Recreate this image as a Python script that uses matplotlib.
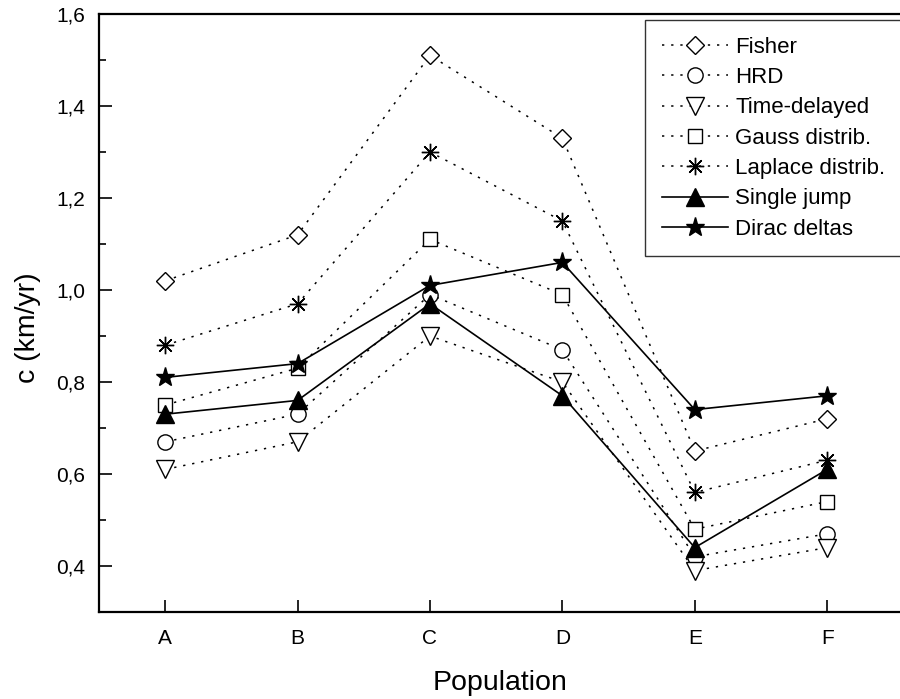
import matplotlib
matplotlib.use("Agg")
import matplotlib.pyplot as plt
from matplotlib.ticker import MultipleLocator, FuncFormatter

plt.rcParams['font.family'] = ['Liberation Sans', 'DejaVu Sans']

populations = ["A", "B", "C", "D", "E", "F"]
fisher = [1.02, 1.12, 1.51, 1.33, 0.65, 0.72]
hrd = [0.67, 0.73, 0.99, 0.87, 0.42, 0.47]
time_delayed = [0.61, 0.67, 0.90, 0.80, 0.39, 0.44]
gauss = [0.75, 0.83, 1.11, 0.99, 0.48, 0.54]
laplace = [0.88, 0.97, 1.30, 1.15, 0.56, 0.63]
single_jump = [0.73, 0.76, 0.97, 0.77, 0.44, 0.61]
dirac = [0.81, 0.84, 1.01, 1.06, 0.74, 0.77]

W, H = 900, 699
fig = plt.figure(figsize=(W / 100, H / 100), dpi=100)
ax = fig.add_axes([99 / W, (H - 612) / H, (902 - 99) / W, (612 - 14) / H])

x = list(range(len(populations)))
dot = dict(ls=(0, (1.5, 4.5)), lw=1.1, color='black', mfc='white', mec='black', mew=1.0)
solid = dict(ls='-', lw=1.2, color='black', mfc='black', mec='black', mew=1.0)
ax.plot(x, fisher, marker='D', ms=9.5, label='Fisher', **dot)
ax.plot(x, hrd, marker='o', ms=11, label='HRD', **dot)
ax.plot(x, time_delayed, marker='v', ms=13, label='Time-delayed', **dot)
ax.plot(x, gauss, marker='s', ms=9.5, label='Gauss distrib.', **dot)
ax.plot(x, laplace, marker=(8, 2, 0), ms=12.5, label='Laplace distrib.', **dot)
ax.plot(x, single_jump, marker='^', ms=13, label='Single jump', **solid)
ax.plot(x, dirac, marker='*', ms=14, label='Dirac deltas', **solid)

ax.set_xlim(-0.5, 5.565)
ax.set_ylim(0.3, 1.6)
ax.set_xticks(x)
ax.set_xticklabels(populations)
ax.yaxis.set_major_locator(MultipleLocator(0.2))
ax.yaxis.set_minor_locator(MultipleLocator(0.1))
ax.yaxis.set_major_formatter(FuncFormatter(lambda v, p: f"{v:.1f}".replace('.', ',')))
ax.tick_params(axis='both', direction='in', labelsize=15, width=1.2, length=9)
ax.tick_params(axis='y', pad=10)
ax.tick_params(axis='x', pad=12)
ax.tick_params(axis='y', which='minor', direction='in', width=1.2, length=5)
for s in ax.spines.values():
    s.set_linewidth(1.6)

ax.set_xlabel('Population', fontsize=20.5, labelpad=16)
ax.set_ylabel('c (km/yr)', fontsize=20.5)
ax.yaxis.set_label_coords(-0.072, 0.476)

leg = ax.legend(loc='upper left', fontsize=16, frameon=True, fancybox=False,
                edgecolor='black', handlelength=3.0, borderpad=0.75,
                labelspacing=0.42, handletextpad=0.3, borderaxespad=0,
                mode='expand',
                bbox_to_anchor=(645 / W, (H - 20) / H, 270 / W, 0.0),
                bbox_transform=fig.transFigure)
leg.get_frame().set_linewidth(1.0)

fig.savefig('out.png', dpi=100)
